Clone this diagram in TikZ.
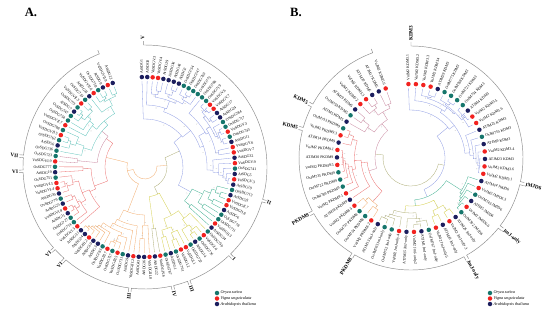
\documentclass[tikz,border=0pt]{standalone}
\usepackage{fontspec}
\setmainfont{Liberation Serif}
\definecolor{ct}{HTML}{16766C}
\definecolor{cr}{HTML}{F2221F}
\definecolor{cn}{HTML}{1C1E5E}
\definecolor{bBlue}{HTML}{8D9BE4}
\definecolor{bGreen}{HTML}{3BAF8E}
\definecolor{bYellow}{HTML}{D3CE45}
\definecolor{bOlive}{HTML}{ABAA72}
\definecolor{bOrange}{HTML}{F2A866}
\definecolor{bRed}{HTML}{EC6D6D}
\definecolor{bPink}{HTML}{C7839C}
\definecolor{bCyan}{HTML}{5AC2BA}
\definecolor{arcgray}{HTML}{8A8A8A}
\tikzset{
  dot/.style={circle,inner sep=0pt,minimum size=4.5mm,draw=none},
  leafR/.style={font=\fontsize{11}{11}\selectfont,inner sep=0pt,anchor=west},
  leafL/.style={font=\fontsize{11}{11}\selectfont,inner sep=0pt,anchor=east},
  br/.style={line width=0.3mm},
  bs/.style={font=\fontsize{3.6}{3.6}\selectfont,text=black!55,inner sep=0pt},
  arcg/.style={draw=arcgray,line width=0.45mm},
  clabR/.style={font=\fontsize{15}{15}\selectfont\bfseries,inner sep=0pt,anchor=west},
  clabL/.style={font=\fontsize{15}{15}\selectfont\bfseries,inner sep=0pt,anchor=east},
  legtxt/.style={font=\fontsize{12}{12}\selectfont\itshape,anchor=west,inner sep=0pt},
  panel/.style={font=\fontsize{36}{36}\selectfont\bfseries,inner sep=0pt}
}
% recursive clade drawing: leaves #1..#2, node radius #3
\newcommand\drawclade[3]{%
  \ifnum#1=#2\relax
    \pgfmathsetmacro\Ta{\TS-#1*\TD}%
    \draw[br] (\Ta:#3) -- (\Ta:\TR);%
  \else
    \pgfmathtruncatemacro\Cm{#1+mod(#1*7+#2*3,#2-#1)}%
    \pgfmathtruncatemacro\Cq{\Cm+1}%
    \pgfmathsetmacro\Tl{\TS-(#1+\Cm)/2*\TD}%
    \pgfmathsetmacro\Tr{\TS-(\Cq+#2)/2*\TD}%
    \pgfmathsetmacro\Lnn{1+ln(#2-#1+1)}%
    \pgfmathsetmacro\Rl{#3+(\TR-#3)*(0.6+0.1*mod(#1*5+#2,7))/\Lnn}%
    \pgfmathsetmacro\Rr{#3+(\TR-#3)*(0.6+0.1*mod(#1+#2*3,7))/\Lnn}%
    \draw[br] (\Tl:\Rl) -- (\Tl:#3) arc[start angle=\Tl,end angle=\Tr,radius=#3 mm] -- (\Tr:\Rr);%
    \pgfmathtruncatemacro\Bsv{35+mod(#1*13+#2*7,66)}%
    \pgfmathsetmacro\Tmid{(\Tl+\Tr)/2}%
    \pgfmathsetmacro\Rb{#3-1.6}%
    \ifdim\Tmid pt>-90pt
      \node[bs,anchor=east,rotate=\Tmid] at (\Tmid:\Rb) {\Bsv};%
    \else
      \pgfmathsetmacro\Tmr{\Tmid+180}%
      \node[bs,anchor=west,rotate=\Tmr] at (\Tmid:\Rb) {\Bsv};%
    \fi
    {\edef\x{\noexpand\drawclade{#1}{\Cm}{\Rl}}\x}%
    {\edef\x{\noexpand\drawclade{\Cq}{#2}{\Rr}}\x}%
  \fi}
% backbone node: children #1..#2 and #2+1..#3, node radius #4, child radii #5 #6
\newcommand\bbnode[6]{%
  \pgfmathsetmacro\Tl{\TS-(#1+#2)/2*\TD}%
  \pgfmathsetmacro\Tr{\TS-(#2+1+#3)/2*\TD}%
  \draw[br] (\Tl:#5) -- (\Tl:#4) arc[start angle=\Tl,end angle=\Tr,radius=#4 mm] -- (\Tr:#6);}
% outer bracket arc
\newcommand\oarc[4]{%
  \draw[arcg] (#1:#4) -- (#1:#3) arc[start angle=#1,end angle=#2,radius=#3 mm] -- (#2:#4);}
\newcommand\cladeA[1]{\ifnum#1<31 V\else\ifnum#1<40 II\else\ifnum#1<50 I\else\ifnum#1<52 IV\else\ifnum#1<67 III\else\ifnum#1<82 VI\else VII\fi\fi\fi\fi\fi\fi}
\newcommand\cladeB[1]{\ifnum#1<19 KDM3\else\ifnum#1<25 JMJD6\else\ifnum#1<37 JmJ-only\else\ifnum#1<41 PKDM8\else\ifnum#1<52 PKDM9\else KDM5\fi\fi\fi\fi\fi}
\newcommand\clabel[3]{% angle radius text
  \pgfmathsetmacro\Ca{#1}%
  \ifdim\Ca pt>-90pt
    \node[clabR,rotate=\Ca] at (\Ca:#2) {#3};
  \else
    \pgfmathsetmacro\Cr{\Ca+180}%
    \node[clabL,rotate=\Cr] at (\Ca:#2) {#3};
  \fi}
\begin{document}
\begin{tikzpicture}[x=1mm,y=1mm]
\useasboundingbox (0,0) rectangle (550,-314);
\fill[white] (0,0) rectangle (550,-314);
\node[panel] (pA) at (31,-12) {A.};
\node[panel] (pB) at (296,-12) {B.};

%================ TREE A =================
\begin{scope}[shift={(145,-167)}]
\def\TS{92}\def\TD{3.4444}\def\TR{86}
\begin{scope}[color=bOrange]\bbnode{0}{51}{99}{12}{22}{18}\end{scope}
\begin{scope}[color=bOlive]\bbnode{0}{39}{51}{22}{38}{30}\end{scope}
\begin{scope}[color=bBlue]\bbnode{0}{30}{39}{38}{48}{52}\drawclade{0}{30}{48}\end{scope}
\begin{scope}[color=bGreen]\drawclade{31}{39}{52}\end{scope}
\begin{scope}[color=bYellow]\bbnode{40}{49}{51}{30}{55}{62}\drawclade{40}{49}{55}\end{scope}
\begin{scope}[color=bOlive]\drawclade{50}{51}{62}\end{scope}
\begin{scope}[color=bOrange]\bbnode{52}{66}{99}{18}{48}{40}\drawclade{52}{66}{48}\end{scope}
\begin{scope}[color=bRed]\bbnode{67}{79}{99}{40}{54}{48}\drawclade{67}{79}{54}\end{scope}
\begin{scope}[color=bPink]\bbnode{80}{81}{99}{48}{68}{56}\drawclade{80}{81}{68}\end{scope}
\begin{scope}[color=bCyan]\drawclade{82}{99}{56}\end{scope}
\foreach \c [count=\i from 0] in {n,n,r,r,n,n,n,n,t,t,t,t,t,t,r,r,n,n,t,t,r,t,n,r,r,n,r,t,n,r,n,
 t,n,r,r,n,t,t,r,n, t,r,t,n,t,r,r,t,n,t, r,n, r,n,n,r,n,t,r,t,r,t,n,n,r,n,n,
 r,t,t,n,r,n,t,n,r,r,t,n,t, r,t, t,n,t,r,t,r,t,t,n,t,r,t,n,r,t,n,r,n}{
  \pgfmathsetmacro\ta{92-\i*3.4444}
  \node[dot,fill=c\c] (A-dot-\i) at (\ta:90) {};
  \pgfmathtruncatemacro\kk{mod(\i,9)+1}
  \pgfmathtruncatemacro\na{mod(\i*7,48)+1}
  \pgfmathtruncatemacro\nb{10+mod(\i*13,80)}
  \edef\nm{\if n\c AtSDG\na\else\if t\c OsSDG7\nb\else VuSDG\cladeA{\i}.\kk\fi\fi}
  \ifdim\ta pt>-90pt
    \node[leafR,rotate=\ta] (A-lab-\i) at (\ta:93.4) {\nm};
  \else
    \pgfmathsetmacro\rot{\ta+180}
    \node[leafL,rotate=\rot] (A-lab-\i) at (\ta:93.4) {\nm};
  \fi
}
\oarc{90.6}{-15.4}{122}{126}
\oarc{-16.6}{-45.4}{122}{126}
\oarc{-46.6}{-68.4}{122}{126}
\oarc{-69.6}{-76.4}{122}{126}
\oarc{-77.6}{-96.4}{122}{126}
\oarc{-97.6}{-130.4}{122}{126}
\oarc{-131.6}{-137.4}{122}{126}
\oarc{-138.6}{-177.4}{122}{126}
\oarc{-178.6}{-184.4}{122}{126}
\oarc{-185.6}{-248}{122}{126}
\clabel{91}{127}{V}
\clabel{-16}{127}{II}
\clabel{-46}{127}{I}
\clabel{-69}{127}{III}
\clabel{-77}{127}{IV}
\clabel{-97}{127}{III}
\clabel{-131}{127}{VI}
\clabel{-138}{127}{VI}
\clabel{-178}{127}{VI}
\clabel{-185}{127}{VII}
\end{scope}

%================ TREE B =================
\begin{scope}[shift={(411,-158)}]
\def\TS{92}\def\TD{5.7966}\def\TR{70}
\begin{scope}[color=bOlive]\bbnode{0}{36}{59}{28}{34}{36}\end{scope}
\begin{scope}[color=bBlue]\bbnode{0}{18}{36}{34}{48}{42}\drawclade{0}{18}{48}\end{scope}
\begin{scope}[color=bGreen]\bbnode{19}{24}{36}{42}{60}{48}\drawclade{19}{24}{60}\end{scope}
\begin{scope}[color=bYellow]\bbnode{25}{28}{36}{48}{57}{55}\drawclade{25}{28}{57}\end{scope}
\begin{scope}[color=bOlive]\drawclade{29}{36}{55}\end{scope}
\begin{scope}[color=bPink]\bbnode{37}{51}{59}{36}{44}{45}\drawclade{52}{59}{45}\end{scope}
\begin{scope}[color=bRed]\bbnode{37}{40}{51}{44}{58}{50}\drawclade{41}{51}{50}\end{scope}
\begin{scope}[color=bOrange]\drawclade{37}{40}{58}\end{scope}
\foreach \c [count=\i from 0] in {r,r,r,r,n,t,t,t,t,n,r,r,n,t,n,r,n,r,r,
 n,r,t,n,r,t, n,r,n,r, t,n,r,n,r,t,t,n, r,t,t,r, n,r,t,t,t,r,n,r,n,r,t,
 n,t,n,r,r,n,n,r}{
  \pgfmathsetmacro\ta{92-\i*5.7966}
  \node[dot,fill=c\c] (B-dot-\i) at (\ta:74) {};
  \pgfmathtruncatemacro\kk{mod(\i,6)+1}
  \pgfmathtruncatemacro\na{mod(\i*7,30)+1}
  \pgfmathtruncatemacro\nb{10+mod(\i*13,80)}
  \edef\nm{\if n\c ATJM\na\ \cladeB{\i}\else\if t\c OsJM7\nb\ \cladeB{\i}\else VuJM2 \cladeB{\i}.\kk\fi\fi}
  \ifdim\ta pt>-90pt
    \node[leafR,rotate=\ta] (B-lab-\i) at (\ta:77.5) {\nm};
  \else
    \pgfmathsetmacro\rot{\ta+180}
    \node[leafL,rotate=\rot] (B-lab-\i) at (\ta:77.5) {\nm};
  \fi
}
\oarc{90}{-12.2}{112}{116}
\oarc{-13.8}{-37.2}{112}{116}
\oarc{-38.8}{-60.2}{112}{116}
\oarc{-61.8}{-120.2}{112}{116}
\oarc{-121.8}{-150.2}{112}{116}
\oarc{-151.8}{-194.2}{112}{116}
\oarc{-195.8}{-207.2}{112}{116}
\oarc{-208.8}{-250}{112}{116}
\clabel{90}{117}{KDM3}
\clabel{-13}{117}{JMJD6}
\clabel{-38}{117}{JmJ-only}
\clabel{-61}{117}{JmJ-only}
\clabel{-121}{117}{PKDM8}
\clabel{-151}{117}{PKDM9}
\clabel{-195}{117}{KDM5}
\clabel{-208}{117}{KDM5}
\end{scope}

%================ LEGENDS =================
\node[dot,fill=ct] (LA1) at (217,-293) {};
\node[dot,fill=cr] (LA2) at (217,-298.5) {};
\node[dot,fill=cn] (LA3) at (217,-304) {};
\node[legtxt] (LA1t) at (220.5,-293) {Oryza sativa};
\node[legtxt] (LA2t) at (220.5,-298.5) {Vigna unguiculata};
\node[legtxt] (LA3t) at (220.5,-304) {Arabidopsis thaliana};
\node[dot,fill=ct] (LB1) at (490,-293) {};
\node[dot,fill=cr] (LB2) at (490,-298.5) {};
\node[dot,fill=cn] (LB3) at (490,-304) {};
\node[legtxt] (LB1t) at (493.5,-293) {Oryza sativa};
\node[legtxt] (LB2t) at (493.5,-298.5) {Vigna unguiculata};
\node[legtxt] (LB3t) at (493.5,-304) {Arabidopsis thaliana};
\end{tikzpicture}
\end{document}
